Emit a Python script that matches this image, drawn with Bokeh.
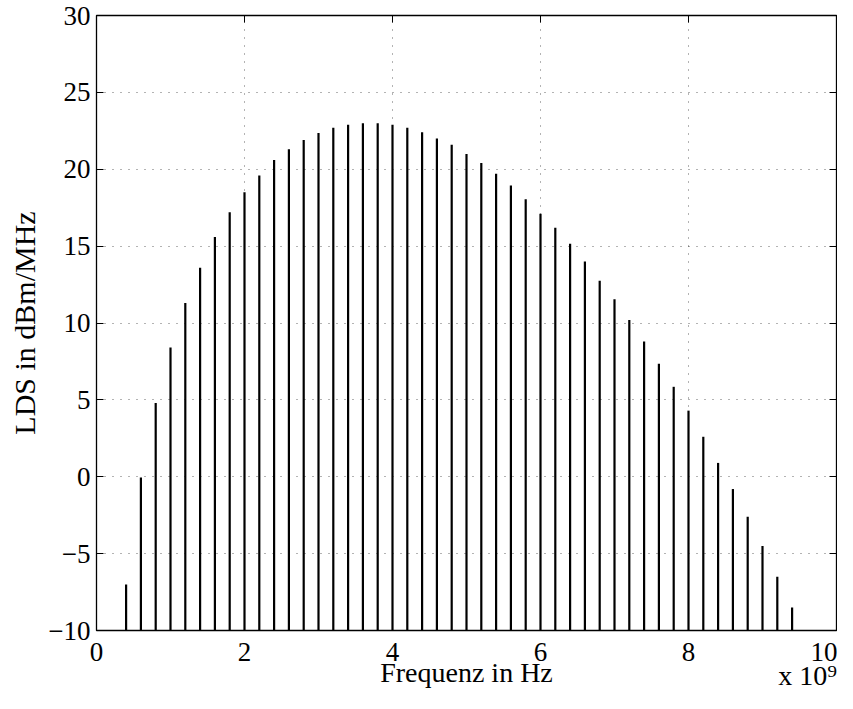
from bokeh.plotting import figure
from bokeh.models import Range1d, FixedTicker, LinearAxis, ColumnDataSource
from bokeh.embed import file_html
from bokeh.resources import INLINE

# ---- data (frequency in units of 1e9 Hz, LDS in dBm/MHz) ----
freq = [0.4, 0.6, 0.8, 1.0, 1.2, 1.4, 1.6, 1.8, 2.0, 2.2,
        2.4, 2.6, 2.8, 3.0, 3.2, 3.4, 3.6, 3.8, 4.0, 4.2,
        4.4, 4.6, 4.8, 5.0, 5.2, 5.4, 5.6, 5.8, 6.0, 6.2,
        6.4, 6.6, 6.8, 7.0, 7.2, 7.4, 7.6, 7.8, 8.0, 8.2,
        8.4, 8.6, 8.8, 9.0, 9.2, 9.4]
lds = [-7.0, -0.05, 4.8, 8.4, 11.3, 13.6, 15.6, 17.2, 18.5, 19.6,
       20.6, 21.3, 21.9, 22.35, 22.7, 22.9, 23.0, 23.0, 22.9, 22.7,
       22.4, 22.0, 21.6, 21.0, 20.4, 19.7, 18.95, 18.05, 17.1, 16.2,
       15.15, 14.0, 12.75, 11.55, 10.2, 8.8, 7.35, 5.85, 4.3, 2.6,
       0.9, -0.8, -2.6, -4.5, -6.5, -8.5]
baseline = -10
x_ticks = [0, 2, 4, 6, 8, 10]
y_ticks = [-10, -5, 0, 5, 10, 15, 20, 25, 30]
y_tick_text = {-10: "\u221210", -5: "\u22125"}
x_title = "Frequenz in Hz"
y_title = "LDS in dBm/MHz"
multiplier_text = "x 10\u2079"
multiplier_anchor = 9.61   # x position (in 1e9 Hz) the multiplier text is centred on

FONT = "Liberation Serif"
TICK_FS = "27px"
W, H = 837, 693

src = ColumnDataSource(dict(f=freq, v=lds, b=[baseline] * len(freq)))

p = figure(width=W, height=H, output_backend="svg", toolbar_location=None,
           x_range=Range1d(0, 10), y_range=Range1d(-10, 30),
           min_border_left=96, min_border_right=1, min_border_top=15,
           min_border_bottom=62, background_fill_color="white",
           border_fill_color="white")
p.outline_line_color = "black"
p.outline_line_width = 1.3

p.segment(x0="f", y0="b", x1="f", y1="v", source=src,
          line_color="black", line_width=2.2)


def style(ax, ticks, show_labels=True):
    ax.ticker = FixedTicker(ticks=ticks)
    ax.axis_line_color = None
    ax.major_tick_in = 7
    ax.major_tick_out = 0
    ax.major_tick_line_color = "black"
    ax.major_tick_line_width = 1
    ax.minor_tick_line_color = None
    ax.major_label_text_font = FONT
    ax.major_label_text_color = "black"
    if show_labels:
        ax.major_label_text_font_size = TICK_FS
    else:
        ax.major_label_text_font_size = "0px"
        ax.major_label_standoff = 0


style(p.xaxis[0], x_ticks)
style(p.yaxis[0], y_ticks)
p.yaxis[0].major_label_overrides = y_tick_text
p.xaxis[0].major_label_standoff = 12
p.yaxis[0].major_label_standoff = 6

p.xaxis[0].axis_label = x_title
p.yaxis[0].axis_label = y_title
for ax in (p.xaxis[0], p.yaxis[0]):
    ax.axis_label_text_font = FONT
    ax.axis_label_text_font_style = "normal"
    ax.axis_label_text_color = "black"
p.xaxis[0].axis_label_text_font_size = "28px"
p.yaxis[0].axis_label_text_font_size = "30px"
p.xaxis[0].axis_label_standoff = -7
p.yaxis[0].axis_label_standoff = 4

top = LinearAxis()
right = LinearAxis()
style(top, x_ticks, False)
style(right, y_ticks, False)
p.add_layout(top, "above")
p.add_layout(right, "right")

# the "x 10^9" multiplier, drawn as the single label of an extra bottom axis
mult = LinearAxis(ticker=FixedTicker(ticks=[multiplier_anchor]),
                  major_label_overrides={multiplier_anchor: multiplier_text})
mult.axis_line_color = None
mult.major_tick_line_color = None
mult.minor_tick_line_color = None
mult.major_tick_in = 0
mult.major_tick_out = 0
mult.major_label_text_font = FONT
mult.major_label_text_font_size = "28px"
mult.major_label_text_color = "black"
mult.major_label_standoff = -31
p.add_layout(mult, "below")

for g, t in ((p.xgrid[0], x_ticks), (p.ygrid[0], y_ticks)):
    g.ticker = FixedTicker(ticks=t)
    g.grid_line_color = "black"
    g.grid_line_alpha = 0.6
    g.grid_line_dash = "1 7"
    g.grid_line_width = 1

open("out.html", "w").write(file_html(p, INLINE))
